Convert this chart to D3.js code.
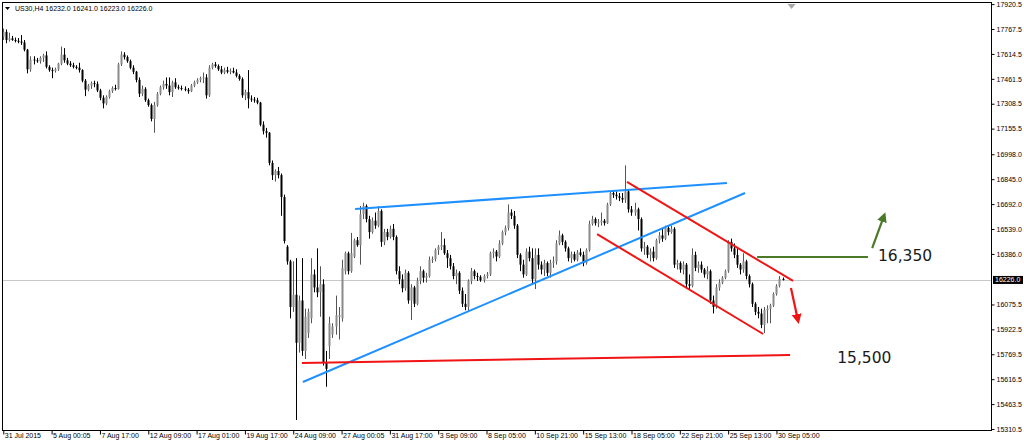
<!DOCTYPE html>
<html><head><meta charset="utf-8">
<script src="https://cdn.jsdelivr.net/npm/d3@7"></script>
<style>html,body{margin:0;padding:0;background:#fff;}svg{display:block;}</style>
</head><body>
<svg id="chart" width="1024" height="446"></svg>
<script>
// ---------- data (US30, H4) ----------
const opens=[17720,17750,17700,17710,17700,17695,17690,17685,17640,17520,17580,17575,17570,17590,17605,17535,17515,17510,17520,17555,17610,17575,17555,17545,17535,17530,17515,17450,17395,17420,17435,17430,17390,17345,17310,17350,17385,17405,17400,17550,17610,17595,17570,17530,17505,17455,17370,17400,17330,17300,17215,17300,17370,17410,17430,17420,17380,17440,17410,17405,17400,17395,17385,17420,17440,17455,17465,17470,17360,17530,17550,17540,17520,17500,17515,17505,17510,17500,17480,17460,17360,17380,17340,17335,17330,17315,17180,17140,17130,16945,16870,16895,16870,16735,16430,16340,16060,16135,15840,16100,15790,15900,15990,16260,16180,16150,16200,15720,15820,15890,15940,16000,15990,16280,16390,16280,16370,16470,16440,16630,16680,16600,16520,16590,16560,16650,16460,16520,16490,16540,16490,16280,16230,16175,16270,16100,16180,16080,16220,16280,16240,16250,16350,16355,16410,16430,16440,16390,16360,16310,16250,16270,16160,16080,16060,16220,16280,16250,16245,16225,16250,16260,16390,16400,16370,16450,16520,16545,16640,16620,16560,16380,16320,16260,16400,16360,16230,16380,16320,16290,16330,16270,16330,16340,16450,16500,16460,16420,16360,16385,16350,16395,16380,16330,16410,16570,16600,16575,16580,16590,16575,16690,16760,16750,16740,16730,16720,16770,16660,16640,16660,16600,16420,16430,16380,16400,16360,16470,16500,16480,16545,16520,16540,16320,16330,16290,16320,16200,16190,16380,16300,16320,16290,16260,16280,16100,16060,16180,16210,16240,16280,16460,16420,16380,16320,16290,16340,16250,16200,16080,16030,16020,15950,16040,16050,16070,16140,16190,16232];
const highs=[17770,17765,17745,17725,17715,17712,17730,17700,17645,17600,17600,17590,17600,17615,17630,17545,17530,17530,17560,17660,17650,17590,17570,17560,17545,17560,17520,17460,17430,17445,17450,17445,17400,17360,17360,17395,17415,17425,17560,17630,17625,17605,17580,17545,17510,17470,17420,17410,17340,17310,17320,17380,17420,17450,17470,17470,17450,17465,17425,17420,17415,17405,17430,17450,17465,17475,17500,17490,17545,17560,17565,17550,17540,17530,17535,17525,17530,17520,17490,17470,17395,17515,17360,17350,17345,17320,17200,17160,17135,16960,16905,16920,16880,16750,16440,16350,16340,16360,16130,16360,16050,16050,16360,16290,16420,16310,16230,15790,16000,15960,16130,16060,16350,16400,16400,16515,16480,16490,16680,16700,16690,16620,16610,16640,16680,16660,16540,16540,16560,16570,16500,16310,16260,16290,16280,16200,16190,16240,16310,16290,16270,16370,16370,16420,16440,16520,16480,16410,16380,16330,16290,16280,16180,16140,16230,16300,16290,16270,16255,16260,16275,16400,16420,16410,16470,16530,16560,16690,16660,16650,16570,16390,16350,16420,16430,16420,16420,16420,16340,16350,16340,16350,16370,16470,16530,16510,16470,16430,16400,16400,16410,16420,16400,16420,16590,16620,16610,16600,16640,16600,16700,16770,16775,16770,16760,16760,16930,16780,16680,16700,16670,16610,16460,16440,16420,16430,16480,16520,16540,16560,16560,16560,16550,16350,16340,16340,16330,16260,16420,16400,16340,16340,16300,16310,16290,16130,16200,16230,16250,16290,16470,16480,16450,16420,16330,16390,16350,16260,16210,16090,16060,16050,16060,16070,16080,16150,16200,16250,16241];
const lows=[17700,17680,17690,17695,17685,17680,17670,17630,17495,17505,17550,17560,17555,17565,17525,17505,17465,17500,17510,17545,17560,17545,17535,17525,17520,17500,17440,17355,17385,17400,17410,17380,17330,17280,17300,17340,17375,17390,17395,17540,17580,17560,17520,17490,17440,17350,17355,17320,17290,17200,17130,17290,17360,17395,17400,17360,17350,17400,17395,17390,17385,17370,17380,17410,17430,17440,17435,17340,17350,17520,17530,17510,17490,17490,17495,17490,17495,17470,17450,17345,17330,17280,17320,17315,17305,17170,17120,17100,16930,16840,16830,16850,16620,16450,16320,15990,16030,15366,15780,15760,15740,15870,15960,16150,16120,16000,15700,15570,15740,15870,15890,15860,15970,16260,16260,16270,16360,16430,16320,16600,16580,16480,16510,16540,16550,16430,16440,16470,16480,16470,16260,16200,16150,16160,16080,15980,16060,16070,16200,16210,16210,16240,16330,16340,16380,16410,16380,16300,16290,16230,16200,16140,16060,16040,16030,16200,16230,16220,16215,16210,16235,16250,16360,16340,16360,16440,16500,16530,16600,16540,16360,16280,16240,16250,16340,16200,16170,16290,16260,16250,16250,16240,16300,16320,16440,16440,16400,16340,16330,16340,16340,16370,16310,16320,16400,16560,16560,16550,16560,16560,16570,16680,16730,16720,16710,16700,16700,16640,16620,16620,16530,16400,16380,16360,16340,16340,16350,16450,16460,16470,16500,16510,16300,16290,16270,16260,16180,16170,16180,16280,16270,16270,16240,16230,16080,16020,16050,16160,16200,16230,16270,16400,16360,16300,16260,16270,16230,16180,16060,16010,15990,15930,15900,15960,15960,16060,16130,16180,16223];
const closes=[17750,17700,17710,17700,17695,17690,17685,17640,17520,17580,17575,17570,17590,17605,17535,17515,17510,17520,17555,17610,17575,17555,17545,17535,17530,17515,17450,17395,17420,17435,17430,17390,17345,17310,17350,17385,17405,17400,17550,17610,17595,17570,17530,17505,17455,17370,17400,17330,17300,17215,17300,17370,17410,17430,17420,17380,17440,17410,17405,17400,17395,17385,17420,17440,17455,17465,17470,17360,17530,17550,17540,17520,17500,17515,17505,17510,17500,17480,17460,17360,17380,17340,17335,17330,17315,17180,17140,17130,16945,16870,16895,16870,16735,16465,16340,16060,16135,15840,16100,15790,16000,16030,16260,16180,16150,16200,15720,15680,15960,15940,16010,16010,16300,16390,16280,16390,16470,16440,16630,16680,16600,16520,16590,16560,16650,16460,16520,16490,16540,16490,16280,16230,16175,16270,16100,16180,16080,16220,16280,16240,16250,16350,16355,16410,16430,16440,16390,16360,16310,16250,16270,16160,16080,16060,16220,16280,16250,16245,16225,16250,16260,16390,16400,16370,16450,16520,16545,16640,16620,16560,16380,16320,16260,16400,16360,16230,16380,16320,16290,16330,16270,16330,16340,16450,16500,16460,16420,16360,16385,16350,16395,16380,16330,16410,16570,16600,16575,16580,16590,16575,16690,16760,16750,16740,16730,16720,16770,16660,16640,16660,16600,16420,16430,16380,16400,16360,16470,16500,16480,16545,16520,16540,16320,16330,16290,16320,16200,16190,16380,16300,16320,16290,16260,16280,16100,16060,16180,16210,16240,16280,16460,16420,16380,16320,16290,16340,16250,16200,16080,16030,16020,15950,16040,16050,16070,16140,16190,16232,16226];

const xTickBars=[0,16,32,48,64,80,96,112,128,144,160,176,192,208,224,240,256];
const xTickLabels=["31 Jul 2015","5 Aug 00:05","7 Aug 17:00","12 Aug 09:00","17 Aug 01:00","19 Aug 17:00","24 Aug 09:00","27 Aug 00:05","31 Aug 17:00","3 Sep 09:00","8 Sep 05:00","10 Sep 21:00","15 Sep 13:00","18 Sep 05:00","22 Sep 21:00","25 Sep 13:00","30 Sep 05:00"];
const yTickValues=[17920.5,17767.5,17614.5,17461.5,17308.5,17155.5,16998.0,16845.0,16692.0,16539.0,16386.0,16075.5,15922.5,15769.5,15616.5,15463.5,15310.5];
const symbolTitle="US30,H4";
const lastQuote=[16232.0,16241.0,16223.0,16226.0];
const currentPrice=16226.0;

// drawn objects: [bar, price] endpoints
const blueLines=[[[116.5,16662],[239.6,16822]],[[99.2,15599],[245.6,16760]]];
const redLines=[[[98.9,15716],[260.5,15765]],[[206.5,16828],[261.5,16220]],[[196.6,16508],[251.6,15894]]];
const greenLines=[[[249.6,16367],[286.3,16367]]];
const greenArrows=[[[287.7,16422],[291.6,16619]]];
const redArrows=[[[260.8,16177],[263.1,15980]]];
const levelTexts=[{bar:289.6,price:16342,text:"16,350"},{bar:276.1,price:15716,text:"15,500"}];

// ---------- drawing ----------
const W=1024,H=446;
const L=2,R=991,T=2,B=430;
const svg=d3.select("#chart");
const x=d3.scaleLinear().domain([0,258]).range([3.3,782.5]);
const y=d3.scaleLinear().domain([15310.5,16539]).range([429,229]);
const axisFont="'Liberation Sans', Arial, sans-serif";

svg.append("rect").attr("width",W).attr("height",H).attr("fill","#fff");
svg.append("defs").html(`<clipPath id="plot"><rect x="${L}" y="${T}" width="${R-L}" height="${B-T}"/></clipPath>
<marker id="ag" viewBox="0 0 10 10" refX="6" refY="5" markerWidth="4.5" markerHeight="4.5" orient="auto"><path d="M0,0L10,5L0,10z" fill="#4a7a28"/></marker>
<marker id="ar" viewBox="0 0 10 10" refX="6" refY="5" markerWidth="4.5" markerHeight="4.5" orient="auto"><path d="M0,0L10,5L0,10z" fill="#f01414"/></marker>`);

const plot=svg.append("g").attr("clip-path","url(#plot)");

// current price line
plot.append("line").attr("x1",L).attr("x2",R)
  .attr("y1",Math.round(y(currentPrice))+0.5).attr("y2",Math.round(y(currentPrice))+0.5)
  .attr("stroke","#c8c8c8").attr("stroke-width",1);

// candles
const bars=d3.range(closes.length);
const cg=plot.append("g");
bars.forEach(i=>{
  const cx=Math.round(x(i))+0.5;
  const bull=closes[i]>=opens[i];
  cg.append("line").attr("x1",cx).attr("x2",cx).attr("y1",y(highs[i])).attr("y2",y(lows[i]))
    .attr("stroke",bull?"#555":"#000").attr("stroke-width",1);
  const top=Math.min(y(opens[i]),y(closes[i]));
  const h=Math.max(1,Math.abs(y(opens[i])-y(closes[i])));
  cg.append("rect").attr("x",cx-1).attr("y",top).attr("width",2).attr("height",h)
    .attr("fill",bull?"#8a8a8a":"#000");
});

// trend lines
const seg=(g,d,color,w,marker)=>{
  const l=g.append("line").attr("x1",x(d[0][0])).attr("y1",y(d[0][1]))
    .attr("x2",x(d[1][0])).attr("y2",y(d[1][1])).attr("stroke",color).attr("stroke-width",w)
    .attr("stroke-linecap","butt");
  if(marker) l.attr("marker-end",marker);
};
const ann=svg.append("g").attr("clip-path","url(#plot)");
blueLines.forEach(d=>seg(ann,d,"#1e90ff",2));
redLines.forEach(d=>seg(ann,d,"#f01414",2));
greenLines.forEach(d=>seg(ann,d,"#4a7a28",2));
greenArrows.forEach(d=>seg(ann,d,"#4a7a28",2.2,"url(#ag)"));
redArrows.forEach(d=>seg(ann,d,"#f01414",2.2,"url(#ar)"));
levelTexts.forEach(t=>{
  ann.append("text").attr("x",x(t.bar)).attr("y",y(t.price))
    .attr("font-family","'DejaVu Sans', Verdana, sans-serif").attr("font-size",15.5)
    .attr("fill","#1a1a1a").text(t.text);
});

// frame
svg.append("rect").attr("x",L+0.5).attr("y",T+0.5).attr("width",R-L).attr("height",B-T)
  .attr("fill","none").attr("stroke","#000").attr("stroke-width",1);

// shift marker
const sx=x(261);
svg.append("path").attr("d",`M${sx-4},${T+2}L${sx+4},${T+2}L${sx},${T+7}Z`).attr("fill","#a8a8a8");

// right axis
const ya=svg.append("g").attr("transform",`translate(${R+0.5},0)`)
  .call(d3.axisRight(y).tickValues(yTickValues).tickSize(3).tickPadding(2).tickFormat(d=>d.toFixed(1)));
ya.select(".domain").remove();
ya.selectAll("line").attr("stroke","#000");
ya.selectAll("text").attr("font-family",axisFont).attr("font-size",7).attr("fill","#000");

// current price tag
const cy=y(currentPrice);
svg.append("rect").attr("x",R+2).attr("y",cy-4).attr("width",30).attr("height",8).attr("fill","#000");
svg.append("text").attr("x",R+4).attr("y",cy).attr("dy","0.34em").attr("font-family",axisFont)
  .attr("font-size",7).attr("fill","#fff").text(currentPrice.toFixed(1));

// bottom axis
const xa=svg.append("g").attr("transform",`translate(0,${B+0.5})`)
  .call(d3.axisBottom(x).tickValues(xTickBars).tickSize(4).tickPadding(0).tickFormat((d,i)=>xTickLabels[i]));
xa.select(".domain").remove();
xa.selectAll("line").attr("stroke","#000");
xa.selectAll("text").attr("font-family",axisFont).attr("font-size",7).attr("fill","#000")
  .attr("text-anchor","start").attr("dx",1).attr("y",3).attr("dy","0.71em");

// header
svg.append("path").attr("d","M5,7L10,7L7.5,10Z").attr("fill","#000");
svg.append("text").attr("x",15).attr("y",11).attr("font-family",axisFont).attr("font-size",7)
  .attr("fill","#000").text(symbolTitle+"  "+lastQuote.map(v=>v.toFixed(1)).join(" "));
</script>
</body></html>
